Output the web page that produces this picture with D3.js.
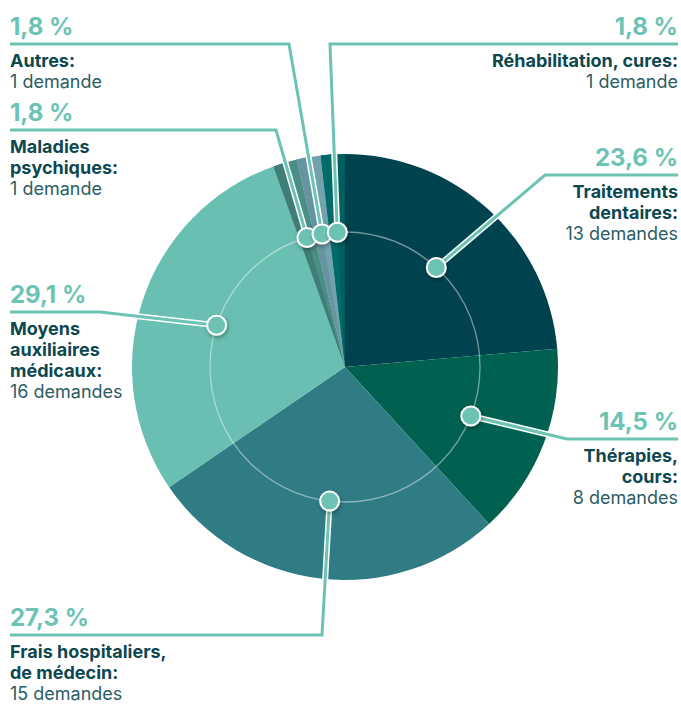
<!DOCTYPE html>
<html>
<head>
<meta charset="utf-8">
<script src="https://cdn.jsdelivr.net/npm/d3@7"></script>
<style>
  body { margin: 0; background: #fff; }
  svg text { font-family: "Inter", "Roboto", sans-serif; }
</style>
</head>
<body>
<div id="chart"></div>
<script>
// Data
var categories = ["Traitements dentaires", "Thérapies, cours", "Frais hospitaliers, de médecin",
    "Moyens auxiliaires médicaux", "Maladies psychiques", "Autres", "Réhabilitation, cures"];
var demandes = [13, 8, 15, 16, 1, 1, 1];
var percentLabels = ["23,6 %", "14,5 %", "27,3 %", "29,1 %", "1,8 %", "1,8 %", "1,8 %"];
var labelLines = [["Traitements", "dentaires:"], ["Thérapies,", "cours:"], ["Frais hospitaliers,", "de médecin:"],
    ["Moyens", "auxiliaires", "médicaux:"], ["Maladies", "psychiques:"], ["Autres:"], ["Réhabilitation, cures:"]];
var countLabels = ["13 demandes", "8 demandes", "15 demandes", "16 demandes", "1 demande", "1 demande", "1 demande"];

// Colours of the slices (second tone used on half of the small slices)
var sliceColors = ["#00434e", "#006150", "#2f7c85", "#69bfb1", "#4a8e86", "#72a2ab", "#00605f"];
var shadeColors = [null, null, null, null, "#3f7d77", "#6694a0", "#006b6a"];

// Where each label sits (side, horizontal line y, elbow x)
var labelLayout = [
    { side: "right", lineY: 175, elbowX: 545 },
    { side: "right", lineY: 439, elbowX: 567 },
    { side: "left", lineY: 635, elbowX: 322 },
    { side: "left", lineY: 312, elbowX: 100 },
    { side: "left", lineY: 130, elbowX: 276 },
    { side: "left", lineY: 44, elbowX: 289 },
    { side: "right", lineY: 44, elbowX: 330 }
];

var width = 681, height = 704;
var cx = 345, cy = 367;
var radius = 213, innerRadius = 135;
var leftEdge = 10, rightEdge = 678;

var teal = "#6cc3b4";

var svg = d3.select("#chart").append("svg")
    .attr("width", width)
    .attr("height", height);

var defs = svg.append("defs");
var shadow = defs.append("filter").attr("id", "dotShadow")
    .attr("x", "-50%").attr("y", "-50%").attr("width", "200%").attr("height", "200%");
shadow.append("feDropShadow")
    .attr("dx", 1).attr("dy", 2).attr("stdDeviation", 2)
    .attr("flood-color", "#000").attr("flood-opacity", 0.35);

var pie = d3.pie().sort(null).value(d => d);
var arcs = pie(demandes);

var arc = d3.arc().innerRadius(0).outerRadius(radius);

var g = svg.append("g").attr("transform", `translate(${cx}, ${cy})`);

// Slices
g.selectAll("path.slice")
    .data(arcs)
    .enter().append("path")
    .attr("class", "slice")
    .attr("d", arc)
    .attr("fill", (d, i) => sliceColors[i]);

// Second tone on the thin slices
g.selectAll("path.shade")
    .data(arcs.filter((d, i) => shadeColors[i]))
    .enter().append("path")
    .attr("class", "shade")
    .attr("d", d => arc({ startAngle: d.startAngle, endAngle: (d.startAngle + d.endAngle) / 2 }))
    .attr("fill", d => shadeColors[d.index]);

// Inner reference circle
g.append("circle")
    .attr("r", innerRadius)
    .attr("fill", "none")
    .attr("stroke", "#ffffff")
    .attr("stroke-opacity", 0.45)
    .attr("stroke-width", 1.3);

// Dot position on the inner circle at the middle of each slice
function dotPos(d) {
    var a = (d.startAngle + d.endAngle) / 2;
    return [cx + innerRadius * Math.sin(a), cy - innerRadius * Math.cos(a)];
}

function leaderPoints(d, i) {
    var p = dotPos(d);
    var l = labelLayout[i];
    var endX = l.side === "left" ? leftEdge : rightEdge;
    return [p, [l.elbowX, l.lineY], [endX, l.lineY]];
}

var line = d3.line();

// Leader lines: white outline then teal
svg.selectAll("path.leaderBack")
    .data(arcs)
    .enter().append("path")
    .attr("class", "leaderBack")
    .attr("d", (d, i) => line(leaderPoints(d, i).slice(0, 2)))
    .attr("fill", "none")
    .attr("stroke", "#ffffff")
    .attr("stroke-width", 6);

svg.selectAll("path.leader")
    .data(arcs)
    .enter().append("path")
    .attr("class", "leader")
    .attr("d", (d, i) => line(leaderPoints(d, i)))
    .attr("fill", "none")
    .attr("stroke", teal)
    .attr("stroke-width", 3)
    .attr("stroke-linejoin", "miter");

// Dots
svg.selectAll("circle.dot")
    .data(arcs)
    .enter().append("circle")
    .attr("class", "dot")
    .attr("cx", d => dotPos(d)[0])
    .attr("cy", d => dotPos(d)[1])
    .attr("r", 9.5)
    .attr("fill", teal)
    .attr("stroke", "#ffffff")
    .attr("stroke-width", 2)
    .attr("filter", "url(#dotShadow)");

// Labels
svg.selectAll("g.label")
    .data(arcs)
    .enter().append("g")
    .attr("class", "label")
    .each(function (d, i) {
        var l = labelLayout[i];
        var x = l.side === "left" ? leftEdge : rightEdge;
        var anchor = l.side === "left" ? "start" : "end";
        var grp = d3.select(this);

        grp.append("text")
            .attr("x", x)
            .attr("y", l.lineY - 9)
            .attr("text-anchor", anchor)
            .attr("fill", teal)
            .attr("font-size", 24)
            .attr("font-weight", 700)
            .text(percentLabels[i]);

        var y = l.lineY + 23;
        labelLines[i].forEach(function (t) {
            grp.append("text")
                .attr("x", x)
                .attr("y", y)
                .attr("text-anchor", anchor)
                .attr("fill", "#0d4750")
                .attr("font-size", 18)
                .attr("font-weight", 700)
                .text(t);
            y += 21;
        });

        grp.append("text")
            .attr("x", x)
            .attr("y", y)
            .attr("text-anchor", anchor)
            .attr("fill", "#2c5d64")
            .attr("font-size", 18)
            .attr("font-weight", 400)
            .text(countLabels[i]);
    });
</script>
</body>
</html>
